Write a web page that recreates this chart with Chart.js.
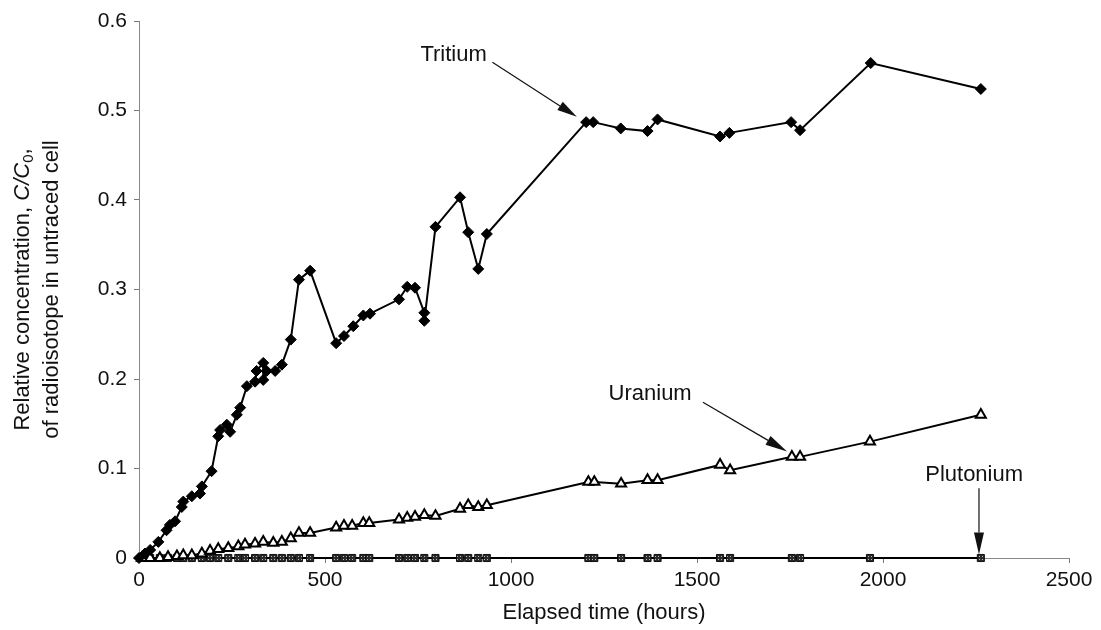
<!DOCTYPE html>
<html><head><meta charset="utf-8">
<script src="https://cdn.jsdelivr.net/npm/chart.js@4.4.1/dist/chart.umd.min.js"></script>
<style>html,body{margin:0;padding:0;background:#fff}#wrap{width:1101px;height:630px}</style>
</head><body><div id="wrap"><canvas id="c" width="1101" height="630"></canvas></div>
<script>
// ---- data ----
const tritiumHours = [0,16,30,52,74,83,97,115,119,142,164,169,195,213,218,236,245,263,272,290,312,316,334,334,343,366,384,408,430,460,530,551,576,603,621,699,721,742,767,767,797,863,885,912,935,1202,1221,1295,1367,1394,1562,1587,1753,1777,1967,2263];
const tritiumValues = [0,0.005,0.009,0.018,0.031,0.037,0.041,0.057,0.063,0.069,0.072,0.080,0.097,0.136,0.143,0.149,0.141,0.160,0.168,0.192,0.197,0.209,0.218,0.199,0.209,0.209,0.216,0.244,0.311,0.321,0.240,0.248,0.259,0.271,0.273,0.289,0.303,0.302,0.274,0.265,0.370,0.403,0.364,0.323,0.362,0.487,0.487,0.480,0.477,0.490,0.471,0.475,0.487,0.478,0.553,0.524];
const uraniumHours = [8,30,56,78,102,119,142,169,191,213,240,267,285,312,334,361,384,408,430,460,530,551,573,603,619,699,721,742,767,797,863,885,912,935,1208,1224,1296,1367,1394,1562,1589,1755,1777,1965,2263];
const uraniumValues = [0,0,0,0.001,0.002,0.003,0.003,0.005,0.008,0.010,0.011,0.013,0.015,0.016,0.018,0.017,0.018,0.022,0.028,0.028,0.034,0.036,0.036,0.039,0.039,0.043,0.045,0.046,0.048,0.047,0.055,0.059,0.057,0.059,0.085,0.085,0.083,0.087,0.087,0.104,0.098,0.113,0.113,0.130,0.160];
const plutoniumHours = [8,30,56,78,102,119,142,169,191,213,240,267,285,312,334,361,384,408,430,460,530,551,573,603,619,699,721,742,767,797,863,885,912,935,1208,1224,1296,1367,1394,1562,1589,1755,1777,1965,2263];
const plutoniumValues = [0,0,0,0,0,0,0,0,0,0,0,0,0,0,0,0,0,0,0,0,0,0,0,0,0,0,0,0,0,0,0,0,0,0,0,0,0,0,0,0,0,0,0,0,0];
const seriesNames = ['Tritium','Uranium','Plutonium'];
const xTickValues = [0,500,1000,1500,2000,2500];
const xTickLabels = ['0','500','1000','1500','2000','2500'];
const yTickValues = [0,0.1,0.2,0.3,0.4,0.5,0.6];
const yTickLabels = ['0','0.1','0.2','0.3','0.4','0.5','0.6'];
const xAxisTitle = 'Elapsed time (hours)';
const yTitleLine1 = [['Relative concentration, ','n'],['C/C','i'],['0','s'],[',','n']];
const yTitleLine2 = 'of radioisotope in untraced cell';

const FONT = "'Liberation Sans', Arial, Helvetica, sans-serif";
const pts = (xs, ys) => xs.map((x, i) => ({x: x, y: ys[i]}));

// speckled dark fill for the plutonium squares
function speckle() {
  const c = document.createElement('canvas'); c.width = 3; c.height = 3;
  const g = c.getContext('2d');
  g.fillStyle = '#2a2a2a'; g.fillRect(0, 0, 3, 3);
  g.fillStyle = '#bdbdbd'; g.fillRect(1, 1, 1, 1);
  return g.createPattern(c, 'repeat');
}

function arrow(ctx, x1, y1, x2, y2, len, half) {
  const a = Math.atan2(y2 - y1, x2 - x1);
  const bx = x2 - len * Math.cos(a), by = y2 - len * Math.sin(a);
  ctx.beginPath(); ctx.moveTo(x1, y1); ctx.lineTo(bx, by); ctx.stroke();
  ctx.beginPath();
  ctx.moveTo(x2, y2);
  ctx.lineTo(bx + half * Math.sin(a), by - half * Math.cos(a));
  ctx.lineTo(bx - half * Math.sin(a), by + half * Math.cos(a));
  ctx.closePath(); ctx.fill();
}

const annotationsPlugin = {
  id: 'notes',
  afterDatasetsDraw(chart) {
    const ctx = chart.ctx, xs = chart.scales.x, ys = chart.scales.y;
    const X = v => xs.getPixelForValue(v), Y = v => ys.getPixelForValue(v);
    ctx.save();
    ctx.fillStyle = '#111'; ctx.strokeStyle = '#111'; ctx.lineWidth = 1.2;
    ctx.font = '22px ' + FONT; ctx.textBaseline = 'middle';
    // Tritium
    ctx.textAlign = 'right';
    ctx.fillText(seriesNames[0], X(935), Y(0.562));
    arrow(ctx, X(950), Y(0.554), X(1177), Y(0.493), 20, 5);
    // Uranium
    ctx.textAlign = 'center';
    ctx.fillText(seriesNames[1], X(1374), Y(0.183));
    arrow(ctx, X(1516), Y(0.174), X(1742), Y(0.119), 22, 5);
    // Plutonium
    ctx.fillText(seriesNames[2], X(2245), Y(0.093));
    arrow(ctx, X(2258), Y(0.078), X(2258), Y(0.004), 22, 5);
    ctx.restore();
  },
  afterDraw(chart) {
    const ctx = chart.ctx, ca = chart.chartArea;
    const cy = (ca.top + ca.bottom) / 2;
    ctx.save();
    ctx.fillStyle = '#111'; ctx.textBaseline = 'middle';
    const fonts = {n: '22px ' + FONT, i: 'italic 22px ' + FONT, s: '15px ' + FONT};
    let total = 0;
    yTitleLine1.forEach(([t, k]) => { ctx.font = fonts[k]; total += ctx.measureText(t).width; });
    ctx.translate(23, cy); ctx.rotate(-Math.PI / 2);
    ctx.textAlign = 'left';
    let px = -total / 2;
    yTitleLine1.forEach(([t, k]) => {
      ctx.font = fonts[k];
      ctx.fillText(t, px, k === 's' ? 6 : 0);
      px += ctx.measureText(t).width;
    });
    ctx.restore();
    ctx.save();
    ctx.fillStyle = '#111'; ctx.textBaseline = 'middle'; ctx.textAlign = 'center';
    ctx.font = '22px ' + FONT;
    ctx.translate(52, cy); ctx.rotate(-Math.PI / 2);
    ctx.fillText(yTitleLine2, 0, 0);
    ctx.restore();
  }
};

new Chart(document.getElementById('c'), {
  type: 'line',
  data: {
    datasets: [
      {label: seriesNames[0], data: pts(tritiumHours, tritiumValues), order: 1, clip: false,
       borderColor: '#000', borderWidth: 2, pointStyle: 'rectRot', pointRadius: 5.5,
       pointBackgroundColor: '#000', pointBorderColor: '#000', pointBorderWidth: 1},
      {label: seriesNames[1], data: pts(uraniumHours, uraniumValues), order: 2, clip: false,
       borderColor: '#000', borderWidth: 2, pointStyle: 'triangle', pointRadius: 5.8,
       pointBackgroundColor: '#fff', pointBorderColor: '#000', pointBorderWidth: 2},
      {label: seriesNames[2], data: pts(plutoniumHours, plutoniumValues), order: 3, clip: false,
       borderColor: '#000', borderWidth: 2, pointStyle: 'rect', pointRadius: 5,
       pointBackgroundColor: speckle(), pointBorderColor: '#111', pointBorderWidth: 1}
    ]
  },
  options: {
    responsive: false, animation: false, devicePixelRatio: 1,
    layout: {padding: {left: 0, right: 32, top: 21, bottom: 0}},
    plugins: {legend: {display: false}, tooltip: {enabled: false}},
    elements: {line: {tension: 0}},
    scales: {
      x: {
        type: 'linear', min: 0, max: 2500,
        afterBuildTicks: s => { s.ticks = xTickValues.map(v => ({value: v})); },
        afterFit: s => { s.height = 72; },
        grid: {drawOnChartArea: false, tickLength: 5, color: '#777'},
        border: {color: '#888', width: 1},
        ticks: {callback: (v, i) => xTickLabels[i], font: {family: FONT, size: 21}, color: '#111', padding: 5, maxRotation: 0, autoSkip: false},
        title: {display: true, text: xAxisTitle, font: {family: FONT, size: 22}, color: '#111', padding: {top: 2, bottom: 4}}
      },
      y: {
        type: 'linear', min: 0, max: 0.6,
        afterBuildTicks: s => { s.ticks = yTickValues.map(v => ({value: v})); },
        afterFit: s => { s.width = 139; },
        grid: {drawOnChartArea: false, tickLength: 5, color: '#777'},
        border: {color: '#888', width: 1},
        ticks: {callback: (v, i) => yTickLabels[i], font: {family: FONT, size: 21}, color: '#111', padding: 7, autoSkip: false}
      }
    }
  },
  plugins: [annotationsPlugin]
});
</script>
</body></html>
